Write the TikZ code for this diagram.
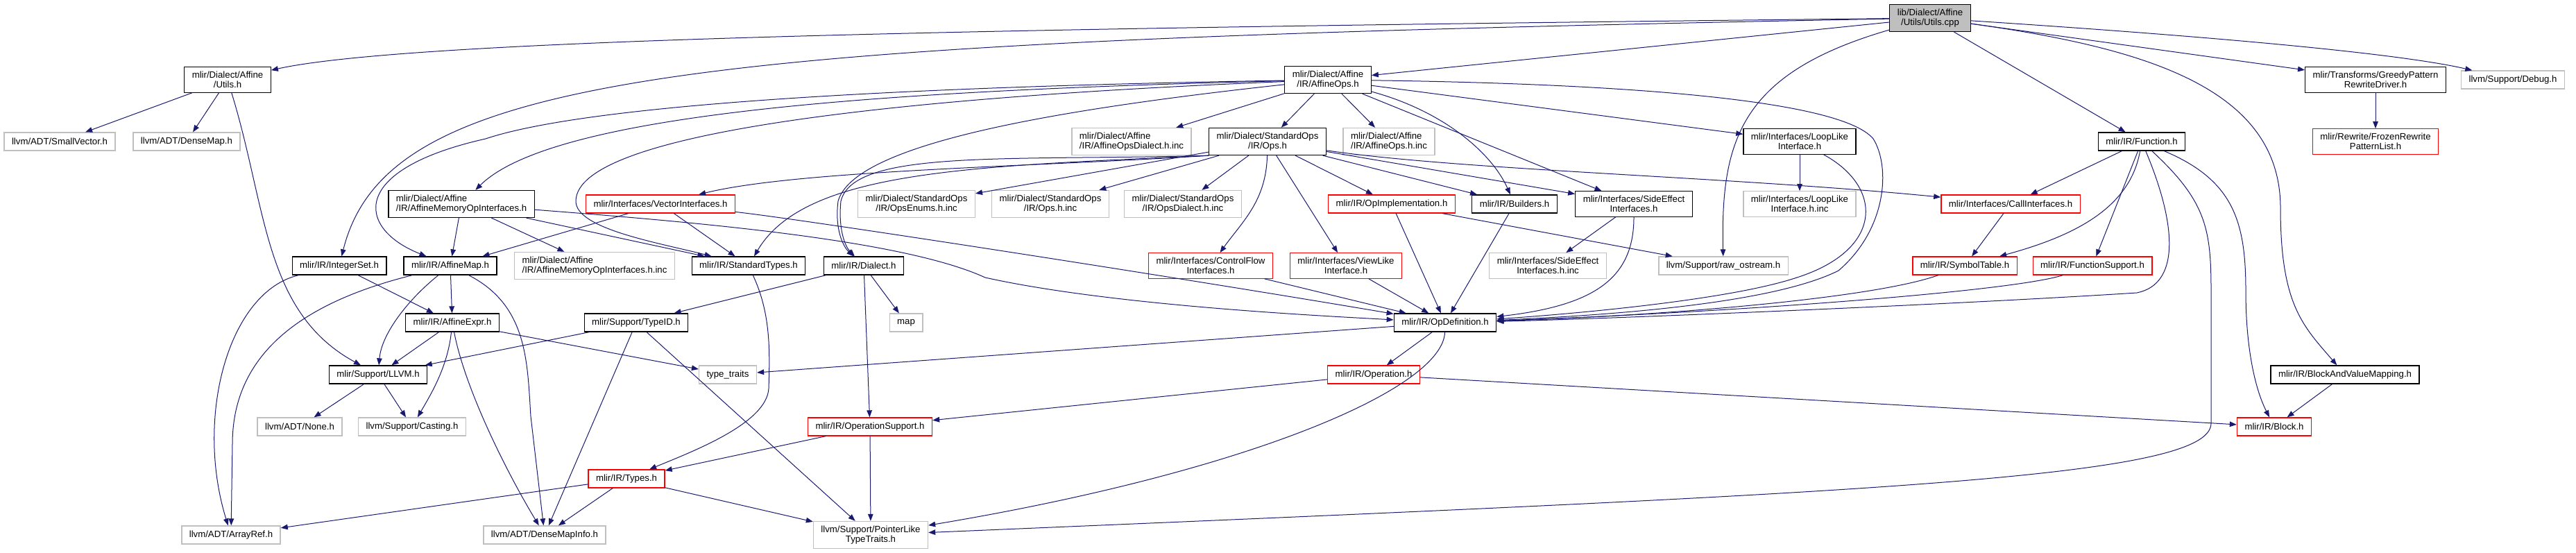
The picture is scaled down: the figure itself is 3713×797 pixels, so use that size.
\documentclass[tikz,border=0pt]{standalone}
\usepackage{fontspec}
\setmainfont{Liberation Sans}
\usetikzlibrary{arrows.meta}
\definecolor{edgeblue}{HTML}{191970}
\definecolor{extgrey}{HTML}{BFBFBF}

\begin{document}
\begin{tikzpicture}[x=0.5pt, y=-0.5pt, line cap=round, >={Triangle[length=5pt,width=3.8pt]},
  every node/.style={font=\fontsize{6.6}{7}\selectfont},
  hdr/.style={draw=black, line width=0.65pt, fill=white, inner xsep=5.5pt, inner ysep=3.2pt,
    minimum height=13pt, align=center},
  ext/.style={hdr, draw=extgrey},
  cut/.style={hdr, draw=red},
  src/.style={hdr, fill=extgrey},
  dep/.style={->, draw=edgeblue, line width=0.5pt}]

\useasboundingbox (0,0) rectangle (3713,797);

% the source file and what it pulls in directly
\node[src] (cpp) at (2782,26) {lib/Dialect/Affine\\/Utils/Utils.cpp};
\node[hdr] (autils) at (328,115) {mlir/Dialect/Affine\\/Utils.h};
\node[hdr] (affops) at (1914,115) {mlir/Dialect/Affine\\/IR/AffineOps.h};
\node[hdr] (greedy) at (3424,115) {mlir/Transforms/GreedyPattern\\RewriteDriver.h};
\node[ext] (debug) at (3622,115) {llvm/Support/Debug.h};

% second row
\node[ext] (smallvec) at (86,204) {llvm/ADT/SmallVector.h};
\node[ext] (densemap) at (269,204) {llvm/ADT/DenseMap.h};
\node[ext, align=left] (affdialinc) at (1631,204) {mlir/Dialect/Affine\\/IR/AffineOpsDialect.h.inc};
\node[hdr] (stdops) at (1827,204) {mlir/Dialect/StandardOps\\/IR/Ops.h};
\node[ext, align=left] (affopsinc) at (2002,204) {mlir/Dialect/Affine\\/IR/AffineOps.h.inc};
\node[hdr] (looplike) at (2594,204) {mlir/Interfaces/LoopLike\\Interface.h};
\node[hdr] (function) at (3087,204) {mlir/IR/Function.h};
\node[cut] (frozen) at (3424,204) {mlir/Rewrite/FrozenRewrite\\PatternList.h};

% third row
\node[hdr, align=left] (amemop) at (665,294) {mlir/Dialect/Affine\\/IR/AffineMemoryOpInterfaces.h};
\node[cut] (vecif) at (952,294) {mlir/Interfaces/VectorInterfaces.h};
\node[ext] (opsenums) at (1321,294) {mlir/Dialect/StandardOps\\/IR/OpsEnums.h.inc};
\node[ext] (opsinc) at (1514,294) {mlir/Dialect/StandardOps\\/IR/Ops.h.inc};
\node[ext] (opsdialinc) at (1705,294) {mlir/Dialect/StandardOps\\/IR/OpsDialect.h.inc};
\node[cut] (opimpl) at (2006,294) {mlir/IR/OpImplementation.h};
\node[hdr] (builders) at (2183,294) {mlir/IR/Builders.h};
\node[hdr] (sideeff) at (2355,294) {mlir/Interfaces/SideEffect\\Interfaces.h};
\node[ext] (looplikeinc) at (2594,294) {mlir/Interfaces/LoopLike\\Interface.h.inc};
\node[cut] (callif) at (2898,294) {mlir/Interfaces/CallInterfaces.h};

% fourth row
\node[hdr] (intset) at (489,383) {mlir/IR/IntegerSet.h};
\node[hdr] (affmap) at (649,383) {mlir/IR/AffineMap.h};
\node[ext, align=left] (amemopinc) at (857,383) {mlir/Dialect/Affine\\/IR/AffineMemoryOpInterfaces.h.inc};
\node[hdr] (stdtypes) at (1079,383) {mlir/IR/StandardTypes.h};
\node[hdr] (dialect) at (1245,383) {mlir/IR/Dialect.h};
\node[cut] (cflow) at (1745,383) {mlir/Interfaces/ControlFlow\\Interfaces.h};
\node[cut] (viewlike) at (1940,383) {mlir/Interfaces/ViewLike\\Interface.h};
\node[ext] (sideeffinc) at (2231,383) {mlir/Interfaces/SideEffect\\Interfaces.h.inc};
\node[ext] (rawos) at (2484,383) {llvm/Support/raw\_ostream.h};
\node[cut] (symtab) at (2832,383) {mlir/IR/SymbolTable.h};
\node[cut] (funcsup) at (3016,383) {mlir/IR/FunctionSupport.h};

% lower rows
\node[hdr] (affexpr) at (652,465) {mlir/IR/AffineExpr.h};
\node[hdr] (typeid) at (917,465) {mlir/Support/TypeID.h};
\node[ext] (map) at (1306,465) {map};
\node[hdr] (opdef) at (2083,465) {mlir/IR/OpDefinition.h};
\node[hdr] (llvmh) at (545,540) {mlir/Support/LLVM.h};
\node[ext] (typetraits) at (1049,540) {type\_traits};
\node[cut] (operation) at (1980,540) {mlir/IR/Operation.h};
\node[hdr] (bvm) at (3380,540) {mlir/IR/BlockAndValueMapping.h};
\node[ext] (none) at (432,615) {llvm/ADT/None.h};
\node[ext] (casting) at (594,615) {llvm/Support/Casting.h};
\node[cut] (opsupport) at (1254,615) {mlir/IR/OperationSupport.h};
\node[cut] (block) at (3278,615) {mlir/IR/Block.h};
\node[cut] (types) at (903,690) {mlir/IR/Types.h};
\node[ext] (arrayref) at (333,771) {llvm/ADT/ArrayRef.h};
\node[ext] (densemapinfo) at (785,771) {llvm/ADT/DenseMapInfo.h};
\node[ext] (ptrlike) at (1255,771) {llvm/Support/PointerLike\\TypeTraits.h};

% includes of the source file
\draw[dep] (cpp) .. controls (1500,40) and (600,55) .. (autils);
\draw[dep] (cpp) .. controls (1000,60) and (560,100) .. (intset);
\draw[dep] (cpp) -- (affops);
\draw[dep] (cpp) .. controls (2510,105) and (2480,200) .. (rawos);
\draw[dep] (cpp) -- (function);
\draw[dep] (cpp) -- (greedy);
\draw[dep] (cpp) .. controls (3150,50) and (3450,75) .. (debug);
\draw[dep] (cpp) .. controls (3100,70) and (3287,130) .. (3287,300)
  .. controls (3287,440) and (3320,470) .. (bvm);

% mlir/Dialect/Affine/Utils.h
\draw[dep] (autils) -- (smallvec);
\draw[dep] (autils) -- (densemap);
\draw[dep] (autils) .. controls (385,300) and (380,450) .. (llvmh);

% AffineOps.h
\draw[dep] (affops) .. controls (1300,130) and (800,160) .. (amemop);
\draw[dep] (affops) .. controls (1300,125) and (850,150) .. (700,200)
  .. controls (500,245) and (515,330) .. (affmap);
\draw[dep] (affops) .. controls (1300,140) and (830,190) .. (830,290)
  .. controls (830,330) and (950,350) .. (stdtypes);
\draw[dep] (affops) .. controls (1500,160) and (1230,210) .. (1208,290)
  .. controls (1203,330) and (1215,355) .. (dialect);
\draw[dep] (affops) -- (affdialinc);
\draw[dep] (affops) -- (stdops);
\draw[dep] (affops) -- (affopsinc);
\draw[dep] (affops) .. controls (2080,160) and (2150,220) .. (builders);
\draw[dep] (affops) -- (sideeff);
\draw[dep] (affops) -- (looplike);
\draw[dep] (affops) .. controls (2300,120) and (2650,140) .. (2700,200)
  .. controls (2725,240) and (2720,330) .. (2650,390)
  .. controls (2550,440) and (2300,455) .. (opdef);

% StandardOps/IR/Ops.h
\draw[dep] (stdops) -- (opsenums);
\draw[dep] (stdops) -- (opsinc);
\draw[dep] (stdops) -- (opsdialinc);
\draw[dep] (stdops.south west) .. controls (1500,240) and (1150,245) .. (vecif);
\draw[dep] (stdops.south west) .. controls (1400,240) and (1160,245) .. (stdtypes);
\draw[dep] (stdops.south west) .. controls (1450,232) and (1230,215) .. (1212,290)
  .. controls (1208,330) and (1218,355) .. (dialect);
\draw[dep] (stdops) .. controls (1825,290) and (1790,320) .. (cflow);
\draw[dep] (stdops) -- (viewlike);
\draw[dep] (stdops) -- (opimpl);
\draw[dep] (stdops) -- (builders);
\draw[dep] (stdops) -- (sideeff);
\draw[dep] (stdops) .. controls (2100,245) and (2500,255) .. (callif);

% the interfaces
\draw[dep] (amemop) -- (affmap);
\draw[dep] (amemop) -- (amemopinc);
\draw[dep] (amemop) -- (stdtypes);
\draw[dep] (amemop) .. controls (1000,320) and (1300,345) .. (1420,400)
  .. controls (1600,440) and (1900,455) .. (opdef);
\draw[dep] (vecif) -- (affmap);
\draw[dep] (vecif) -- (stdtypes);
\draw[dep] (vecif) .. controls (1150,315) and (1700,400) .. (opdef);
\draw[dep] (looplike) -- (looplikeinc);
\draw[dep] (looplike) .. controls (2715,270) and (2715,360) .. (2590,400)
  .. controls (2500,430) and (2300,450) .. (opdef);
\draw[dep] (sideeff) -- (sideeffinc);
\draw[dep] (sideeff) .. controls (2355,400) and (2300,440) .. (opdef);
\draw[dep] (cflow) -- (opdef);
\draw[dep] (viewlike) -- (opdef);
\draw[dep] (opimpl) -- (opdef);
\draw[dep] (opimpl) -- (rawos);
\draw[dep] (builders) -- (opdef);
\draw[dep] (callif) -- (symtab);

% Function.h
\draw[dep] (function) -- (callif);
\draw[dep] (function) .. controls (3070,300) and (2990,340) .. (symtab);
\draw[dep] (function) -- (funcsup);
\draw[dep] (function) .. controls (3140,330) and (3140,410) .. (3080,422)
  .. controls (2800,440) and (2300,460) .. (opdef);
\draw[dep] (function) .. controls (3180,290) and (3187,330) .. (3187,420) -- (3187,610)
  .. controls (3187,690) and (2700,710) .. (ptrlike);
\draw[dep] (function) .. controls (3220,260) and (3237,320) .. (3237,420)
  .. controls (3237,500) and (3250,560) .. (block);
\draw[dep] (symtab) .. controls (2700,430) and (2400,455) .. (opdef);
\draw[dep] (funcsup) .. controls (2900,420) and (2500,450) .. (opdef);
\draw[dep] (greedy) -- (frozen);
\draw[dep] (bvm) -- (block);

% affine maps and sets
\draw[dep] (intset) -- (affexpr);
\draw[dep] (intset) .. controls (330,420) and (280,600) .. (arrayref);
\draw[dep] (affmap) -- (affexpr);
\draw[dep] (affmap) .. controls (590,430) and (550,480) .. (llvmh);
\draw[dep] (affmap) .. controls (420,440) and (335,520) .. (335,640) -- (arrayref);
\draw[dep] (affmap) .. controls (760,440) and (760,520) .. (765,600) -- (densemapinfo);
\draw[dep] (affexpr) -- (llvmh);
\draw[dep] (affexpr) .. controls (645,530) and (620,570) .. (casting);
\draw[dep] (affexpr) .. controls (670,560) and (730,680) .. (densemapinfo);
\draw[dep] (affexpr) -- (typetraits);

% types and support
\draw[dep] (stdtypes) .. controls (1110,450) and (1110,500) .. (1108,560)
  .. controls (1105,610) and (1000,650) .. (types);
\draw[dep] (dialect) -- (map);
\draw[dep] (dialect) -- (opsupport);
\draw[dep] (dialect) -- (typeid);
\draw[dep] (typeid) -- (llvmh);
\draw[dep] (typeid) -- (densemapinfo);
\draw[dep] (typeid) -- (ptrlike);
\draw[dep] (llvmh) -- (none);
\draw[dep] (llvmh) -- (casting);
\draw[dep] (opdef) -- (typetraits);
\draw[dep] (opdef) -- (operation);
\draw[dep] (opdef) .. controls (2080,560) and (1800,680) .. (ptrlike);
\draw[dep] (operation) -- (opsupport);
\draw[dep] (operation) -- (block);
\draw[dep] (opsupport) -- (types);
\draw[dep] (opsupport) -- (ptrlike);
\draw[dep] (types) -- (arrayref);
\draw[dep] (types) -- (densemapinfo);
\draw[dep] (types) -- (ptrlike);

\end{tikzpicture}
\end{document}
